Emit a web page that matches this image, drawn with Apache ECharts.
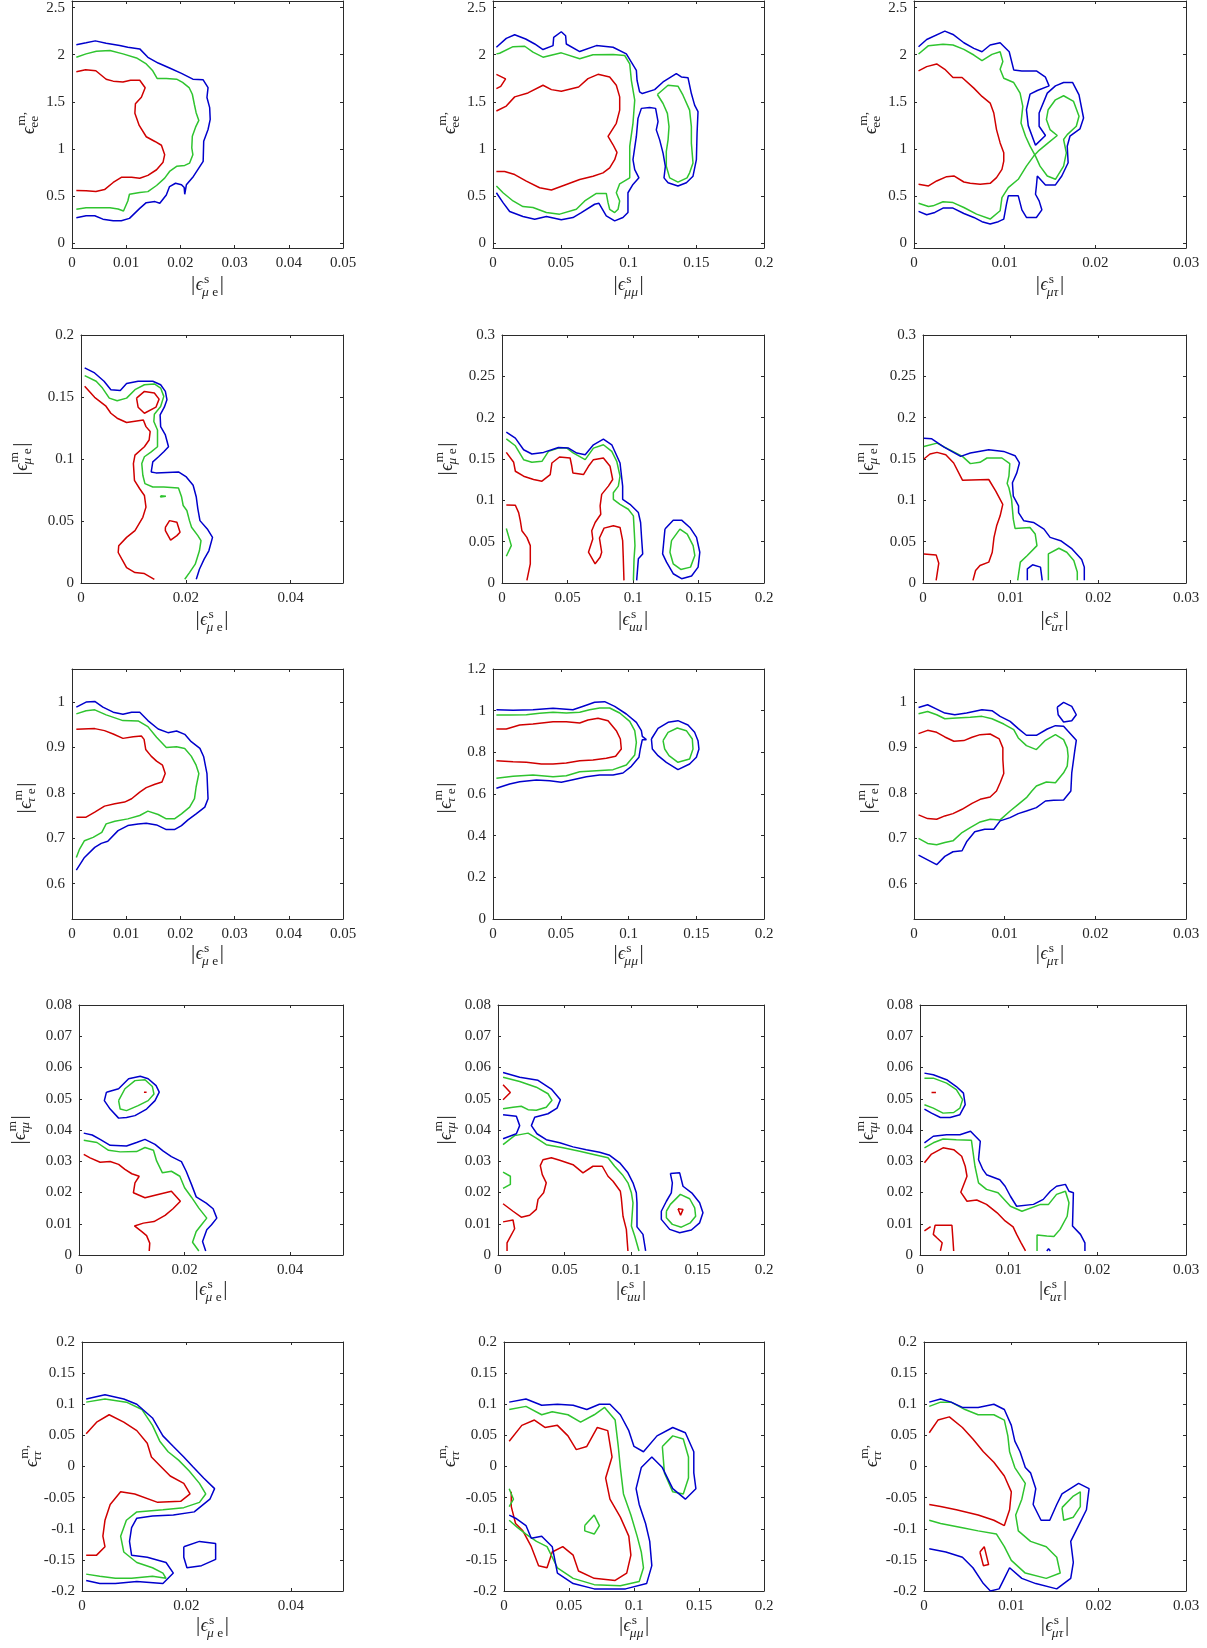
<!DOCTYPE html>
<html><head><meta charset="utf-8">
<script src="https://cdn.jsdelivr.net/npm/echarts@6/dist/echarts.min.js"></script>
<style>html,body{margin:0;padding:0;background:#fff}#c{width:1207px;height:1648px}</style>
</head><body><div id="c"></div>
<script>
// ---------------- tick values ----------------
const xTicks1 = [0,0.01,0.02,0.03,0.04,0.05];
const xTicks1b = [0,0.02,0.04];
const xTicks2 = [0,0.05,0.1,0.15,0.2];
const xTicks3 = [0,0.01,0.02,0.03];
const yTicksR1 = [0,0.5,1,1.5,2,2.5];
const yTicksR2a = [0,0.05,0.1,0.15,0.2];
const yTicksR2b = [0,0.05,0.1,0.15,0.2,0.25,0.3];
const yTicksR3a = [0.6,0.7,0.8,0.9,1];
const yTicksR3b = [0,0.2,0.4,0.6,0.8,1,1.2];
const yTicksR4 = [0,0.01,0.02,0.03,0.04,0.05,0.06,0.07,0.08];
const yTicksR5 = [-0.2,-0.15,-0.1,-0.05,0,0.05,0.1,0.15,0.2];
const xRanges = [[0,0.05],[0,0.2],[0,0.03]];
const yRangesRow = [[-0.05,2.57],[0,0.3],[0.522,1.073],[0,0.08],[-0.2,0.2]];

// ---------------- contour data (x, y) ----------------
// Panel 1
const p1_red = [[0.0008,1.82],[0.0025,1.84],[0.0044,1.83],[0.0063,1.74],[0.0076,1.72],[0.0094,1.71],[0.0108,1.73],[0.0125,1.73],[0.0135,1.65],[0.0128,1.55],[0.0117,1.48],[0.0116,1.38],[0.0124,1.25],[0.0137,1.13],[0.0153,1.08],[0.0165,1.04],[0.0171,0.94],[0.0168,0.86],[0.0156,0.78],[0.014,0.72],[0.0125,0.69],[0.011,0.70],[0.0091,0.70],[0.0076,0.645],[0.006,0.57],[0.0044,0.55],[0.0026,0.556],[0.0008,0.56]];
const p1_green = [[0.0008,1.973],[0.0026,2.009],[0.0045,2.037],[0.007,2.044],[0.0094,2.009],[0.0119,1.966],[0.0137,1.902],[0.0149,1.83],[0.0157,1.749],[0.0174,1.749],[0.0193,1.741],[0.0204,1.706],[0.0216,1.652],[0.0222,1.581],[0.0226,1.467],[0.0229,1.385],[0.0234,1.303],[0.0228,1.232],[0.0222,1.136],[0.0221,1.011],[0.0223,0.94],[0.0217,0.851],[0.0208,0.826],[0.0193,0.816],[0.018,0.762],[0.0171,0.691],[0.0156,0.613],[0.014,0.548],[0.0125,0.538],[0.0106,0.52],[0.0103,0.449],[0.0095,0.342],[0.0085,0.363],[0.007,0.377],[0.0048,0.377],[0.0026,0.377],[0.0008,0.36]];
const p1_blue = [[0.0008,2.105],[0.0026,2.126],[0.0043,2.147],[0.0063,2.123],[0.0088,2.098],[0.0103,2.08],[0.0125,2.062],[0.014,1.973],[0.0159,1.912],[0.018,1.859],[0.0202,1.802],[0.0223,1.741],[0.0242,1.734],[0.0251,1.652],[0.0249,1.546],[0.0254,1.439],[0.0255,1.314],[0.0251,1.207],[0.0243,1.083],[0.0242,0.869],[0.0236,0.816],[0.0224,0.709],[0.0211,0.62],[0.0208,0.52],[0.0207,0.591],[0.0202,0.62],[0.0191,0.637],[0.018,0.602],[0.0174,0.513],[0.0162,0.424],[0.0153,0.442],[0.0137,0.431],[0.0125,0.37],[0.0106,0.264],[0.0091,0.239],[0.0076,0.239],[0.0057,0.256],[0.0042,0.292],[0.0026,0.292],[0.0008,0.271]];
// Panel 2
const p2_red_a = [[0.0025,1.792],[0.0093,1.744],[0.0057,1.664],[0.0025,1.64]];
const p2_red_b = [[0.0025,1.403],[0.0098,1.455],[0.016,1.553],[0.0258,1.595],[0.0369,1.676],[0.0431,1.63],[0.0504,1.613],[0.0632,1.658],[0.0701,1.746],[0.0775,1.792],[0.0861,1.764],[0.091,1.676],[0.0935,1.553],[0.0935,1.413],[0.091,1.273],[0.0849,1.133],[0.0886,1.045],[0.0915,0.964],[0.0898,0.887],[0.0861,0.799],[0.0812,0.747],[0.0738,0.712],[0.064,0.677],[0.0541,0.624],[0.0431,0.565],[0.0344,0.589],[0.0246,0.659],[0.016,0.729],[0.0086,0.761],[0.0025,0.761]];
const p2_green_a = [[0.0025,2.009],[0.0049,2.016],[0.0148,2.086],[0.0234,2.09],[0.0295,2.027],[0.0369,1.974],[0.0504,2.02],[0.064,1.957],[0.0738,1.999],[0.0886,2.002],[0.0972,1.992],[0.1009,1.904],[0.1021,1.729],[0.1046,1.518],[0.1033,1.273],[0.1009,1.027],[0.1009,0.694],[0.0935,0.631],[0.091,0.536],[0.0935,0.449],[0.0923,0.361],[0.0898,0.326],[0.0861,0.361],[0.0849,0.431],[0.0836,0.529],[0.0763,0.529],[0.0677,0.449],[0.0615,0.361],[0.0492,0.309],[0.0394,0.326],[0.0295,0.379],[0.0221,0.389],[0.0148,0.449],[0.0074,0.536],[0.0025,0.607]];
const p2_green_b = [[0.1213,1.578],[0.1292,1.676],[0.1365,1.666],[0.1402,1.571],[0.1451,1.413],[0.1464,1.238],[0.1464,1.062],[0.1476,0.852],[0.1451,0.747],[0.1432,0.694],[0.1365,0.649],[0.1304,0.694],[0.1279,0.817],[0.1279,0.975],[0.1292,1.097],[0.1299,1.238],[0.1287,1.378],[0.1255,1.483],[0.1213,1.578]];
const p2_blue = [[0.0025,2.079],[0.0098,2.174],[0.016,2.212],[0.0241,2.167],[0.0308,2.114],[0.0369,2.055],[0.0443,2.097],[0.0448,2.184],[0.0504,2.244],[0.0536,2.202],[0.0541,2.114],[0.064,2.034],[0.0763,2.097],[0.0886,2.079],[0.0984,2.009],[0.1021,1.921],[0.1058,1.834],[0.1063,1.729],[0.1082,1.606],[0.1102,1.588],[0.1193,1.63],[0.1255,1.711],[0.1353,1.799],[0.139,1.764],[0.1439,1.757],[0.1464,1.588],[0.1488,1.466],[0.1513,1.396],[0.1506,1.168],[0.1501,0.887],[0.1476,0.712],[0.1427,0.642],[0.1365,0.607],[0.1292,0.642],[0.1262,0.694],[0.1272,0.817],[0.1255,0.957],[0.123,1.097],[0.1205,1.203],[0.1218,1.29],[0.12,1.431],[0.1156,1.441],[0.1095,1.431],[0.107,1.325],[0.1058,1.133],[0.1033,0.887],[0.1046,0.782],[0.1077,0.694],[0.1033,0.624],[0.0996,0.536],[0.0996,0.326],[0.0959,0.273],[0.0898,0.238],[0.0836,0.291],[0.0782,0.424],[0.075,0.414],[0.0652,0.326],[0.059,0.273],[0.0504,0.249],[0.0394,0.284],[0.0308,0.256],[0.0221,0.284],[0.0123,0.337],[0.0074,0.431],[0.0025,0.536]];
// Panel 3
const p3_red = [[0.0005,1.828],[0.0014,1.874],[0.0025,1.902],[0.0034,1.846],[0.0043,1.758],[0.0053,1.758],[0.0066,1.646],[0.0075,1.558],[0.0084,1.487],[0.0088,1.382],[0.0091,1.206],[0.0095,1.065],[0.0099,0.96],[0.0099,0.872],[0.0097,0.784],[0.0091,0.696],[0.0084,0.636],[0.0073,0.626],[0.0062,0.636],[0.0055,0.65],[0.0044,0.714],[0.0036,0.707],[0.0025,0.661],[0.0016,0.608],[0.0005,0.626]];
const p3_green = [[0.0005,2.008],[0.0016,2.096],[0.0032,2.11],[0.0043,2.103],[0.0055,2.057],[0.0066,1.997],[0.0075,1.937],[0.0086,2.004],[0.0095,2.032],[0.0098,1.927],[0.0095,1.846],[0.0099,1.751],[0.011,1.705],[0.0117,1.593],[0.012,1.452],[0.0118,1.276],[0.0123,1.136],[0.0128,1.03],[0.0134,0.925],[0.0139,0.819],[0.0147,0.714],[0.0156,0.679],[0.0165,0.819],[0.0168,0.96],[0.0165,1.101],[0.0169,1.153],[0.0179,1.241],[0.0182,1.347],[0.0176,1.505],[0.0165,1.565],[0.0156,1.522],[0.0148,1.417],[0.0146,1.312],[0.015,1.206],[0.0158,1.143],[0.0148,1.065],[0.0137,0.977],[0.0132,0.925],[0.0124,0.819],[0.0115,0.679],[0.0104,0.591],[0.0097,0.485],[0.0095,0.345],[0.0084,0.257],[0.0069,0.309],[0.0055,0.38],[0.0043,0.432],[0.0032,0.44],[0.0021,0.397],[0.0016,0.39],[0.0005,0.425]];
const p3_blue = [[0.0005,2.085],[0.0014,2.162],[0.0034,2.25],[0.0043,2.215],[0.0055,2.127],[0.0066,2.068],[0.0075,2.032],[0.0084,2.103],[0.0095,2.127],[0.0105,2.032],[0.011,1.839],[0.0119,1.828],[0.0135,1.828],[0.0145,1.762],[0.0149,1.67],[0.0136,1.621],[0.0128,1.582],[0.0124,1.417],[0.0126,1.248],[0.0134,1.041],[0.0145,1.143],[0.0138,1.241],[0.0138,1.382],[0.0147,1.593],[0.0156,1.67],[0.0165,1.705],[0.0175,1.705],[0.0182,1.575],[0.0187,1.329],[0.0183,1.213],[0.0172,1.136],[0.0169,1.03],[0.017,0.854],[0.0163,0.714],[0.0156,0.619],[0.0145,0.619],[0.0136,0.714],[0.0135,0.608],[0.0134,0.52],[0.0138,0.45],[0.0141,0.355],[0.0135,0.274],[0.0124,0.274],[0.0119,0.355],[0.0115,0.503],[0.0104,0.503],[0.0102,0.415],[0.0099,0.257],[0.0093,0.229],[0.0084,0.204],[0.0075,0.229],[0.0066,0.274],[0.0055,0.316],[0.0043,0.373],[0.0032,0.373],[0.0023,0.327],[0.0014,0.302],[0.0005,0.338]];
// Panel 4
const p4_red_a = [[0.0007,0.1586],[0.0026,0.1497],[0.0047,0.1429],[0.0057,0.1369],[0.0069,0.1329],[0.0087,0.1294],[0.0119,0.1315],[0.0124,0.1261],[0.0132,0.1221],[0.013,0.1153],[0.0121,0.1099],[0.0103,0.1031],[0.01,0.0963],[0.0102,0.0828],[0.0112,0.076],[0.0121,0.0706],[0.0124,0.0612],[0.0118,0.053],[0.0103,0.0422],[0.0087,0.0368],[0.0072,0.03],[0.0071,0.0246],[0.0078,0.0192],[0.0087,0.0124],[0.0103,0.0084],[0.0121,0.0076],[0.014,0.003]];
const p4_red_b = [[0.0106,0.1491],[0.0121,0.1545],[0.014,0.1532],[0.0149,0.1483],[0.0143,0.1418],[0.0121,0.1369],[0.0109,0.1418],[0.0106,0.1491]];
const p4_red_c = [[0.0161,0.0449],[0.0169,0.0503],[0.0183,0.049],[0.0189,0.0409],[0.0183,0.0382],[0.0171,0.0346],[0.0161,0.0422],[0.0161,0.0449]];
const p4_green_a = [[0.0007,0.1673],[0.0029,0.1627],[0.0041,0.1572],[0.0054,0.1491],[0.0069,0.147],[0.0087,0.1491],[0.0103,0.1559],[0.0121,0.1599],[0.014,0.1605],[0.0152,0.1572],[0.0158,0.1505],[0.0152,0.1424],[0.014,0.1361],[0.0139,0.1302],[0.0146,0.1234],[0.0146,0.1099],[0.0134,0.1058],[0.0121,0.1018],[0.0116,0.0963],[0.0118,0.0869],[0.0122,0.0801],[0.0137,0.0774],[0.0158,0.0774],[0.0186,0.0766],[0.0192,0.0693],[0.0195,0.0625],[0.0202,0.0585],[0.0207,0.0503],[0.0211,0.0449],[0.0223,0.0382],[0.0229,0.0341],[0.0226,0.026],[0.0218,0.0152],[0.0207,0.0084],[0.0198,0.003]];
const p4_green_b = [[0.0152,0.0703],[0.0162,0.0699],[0.0152,0.0694],[0.0152,0.0703]];
const p4_blue = [[0.0007,0.1735],[0.0026,0.1694],[0.0044,0.1627],[0.0057,0.1559],[0.0075,0.1553],[0.0087,0.1608],[0.0109,0.1627],[0.0137,0.1627],[0.0152,0.1599],[0.0161,0.1545],[0.0164,0.1478],[0.0159,0.1418],[0.0151,0.1356],[0.0152,0.1261],[0.0161,0.1194],[0.0167,0.1099],[0.0158,0.1058],[0.0148,0.1018],[0.0137,0.0977],[0.0134,0.0896],[0.0143,0.0888],[0.0186,0.0896],[0.0201,0.0855],[0.0214,0.0788],[0.022,0.0693],[0.0223,0.0598],[0.0227,0.0503],[0.0241,0.0436],[0.0251,0.0368],[0.0244,0.026],[0.0235,0.0192],[0.0226,0.0111],[0.022,0.003]];
// Panel 5
const p5_red_a = [[0.0033,0.158],[0.0089,0.146],[0.0102,0.1352],[0.0165,0.1292],[0.0241,0.1252],[0.0305,0.1232],[0.0368,0.1312],[0.0381,0.1452],[0.0439,0.1524],[0.052,0.1512],[0.0533,0.1412],[0.0541,0.1332],[0.0622,0.1312],[0.066,0.1412],[0.0698,0.1492],[0.0774,0.1512],[0.0825,0.1412],[0.0845,0.1252],[0.0812,0.1172],[0.0761,0.1072],[0.0749,0.0932],[0.0754,0.0832],[0.0711,0.0732],[0.0685,0.0632],[0.0693,0.0532],[0.066,0.0372],[0.0711,0.0232],[0.0749,0.0312],[0.0761,0.0372],[0.0744,0.0544],[0.0779,0.0664],[0.085,0.0692],[0.0901,0.0672],[0.0921,0.0512],[0.0926,0.0292],[0.0931,0.0032]];
const p5_red_b = [[0.0033,0.0944],[0.0102,0.094],[0.0127,0.0852],[0.014,0.0752],[0.0152,0.0632],[0.019,0.0552],[0.0216,0.0452],[0.0216,0.0232],[0.019,0.0032]];
const p5_green_a = [[0.0033,0.1744],[0.0102,0.166],[0.0165,0.1492],[0.0228,0.146],[0.0305,0.1472],[0.0355,0.1592],[0.0431,0.1632],[0.0495,0.1632],[0.0546,0.1572],[0.0635,0.1492],[0.0698,0.1632],[0.0774,0.1672],[0.0838,0.1592],[0.0876,0.1472],[0.0901,0.1292],[0.0888,0.1172],[0.085,0.1092],[0.085,0.1012],[0.0901,0.0952],[0.0964,0.0892],[0.1003,0.0812],[0.101,0.0612],[0.1015,0.0452],[0.1008,0.0292],[0.1003,0.0032]];
const p5_green_b = [[0.0033,0.066],[0.0071,0.0452],[0.0033,0.0324]];
const p5_green_c = [[0.1294,0.0512],[0.1358,0.0652],[0.1414,0.0592],[0.1459,0.0452],[0.1472,0.0332],[0.1439,0.0192],[0.1365,0.0164],[0.1307,0.0232],[0.1282,0.0372],[0.1294,0.0512]];
const p5_blue_a = [[0.0033,0.1824],[0.0102,0.1752],[0.0165,0.1612],[0.0228,0.156],[0.0317,0.158],[0.0431,0.164],[0.0508,0.1632],[0.0571,0.1572],[0.0635,0.1552],[0.0698,0.1672],[0.0774,0.174],[0.0838,0.1672],[0.0901,0.1452],[0.0921,0.1172],[0.0921,0.1012],[0.0977,0.0952],[0.1041,0.0852],[0.1058,0.0732],[0.1066,0.0532],[0.1074,0.0352],[0.1041,0.0292],[0.1028,0.0032]];
const p5_blue_b = [[0.1244,0.0652],[0.1307,0.076],[0.1371,0.076],[0.1434,0.0672],[0.1485,0.0552],[0.151,0.0372],[0.1497,0.0192],[0.1447,0.0084],[0.1371,0.0052],[0.1307,0.0112],[0.1256,0.0252],[0.1226,0.0352],[0.1244,0.0652]];
// Panel 6
const p6_red_a = [[0.0001,0.15],[0.0008,0.156],[0.0016,0.158],[0.0026,0.1552],[0.0035,0.1452],[0.0045,0.1244],[0.0075,0.1252],[0.0083,0.1112],[0.0091,0.0952],[0.0088,0.0812],[0.0084,0.0692],[0.0081,0.0552],[0.0079,0.0372],[0.0075,0.0252],[0.0065,0.0212],[0.006,0.0152],[0.0057,0.0032]];
const p6_red_b = [[0.0001,0.0352],[0.0015,0.034],[0.0018,0.024],[0.0015,0.0032]];
const p6_green_a = [[0.0001,0.1652],[0.0016,0.1692],[0.0029,0.162],[0.0045,0.1532],[0.0054,0.1444],[0.0065,0.146],[0.0073,0.1512],[0.009,0.1512],[0.0099,0.1444],[0.0098,0.1292],[0.0096,0.1204],[0.0098,0.1152],[0.0101,0.1012],[0.0103,0.0772],[0.0105,0.066],[0.0122,0.0672],[0.0128,0.0592],[0.013,0.0452],[0.0119,0.0332],[0.0111,0.0252],[0.0108,0.0032]];
const p6_green_b = [[0.0143,0.0032],[0.0143,0.0352],[0.0155,0.042],[0.0164,0.0372],[0.0172,0.0272],[0.0176,0.0132],[0.0176,0.0032]];
const p6_blue_a = [[0.0001,0.1752],[0.001,0.1744],[0.0024,0.1644],[0.0043,0.1532],[0.0054,0.1572],[0.0075,0.1612],[0.0092,0.1592],[0.0105,0.154],[0.011,0.1452],[0.0107,0.1332],[0.0102,0.1212],[0.0103,0.1052],[0.0109,0.0932],[0.0109,0.0852],[0.0115,0.0752],[0.0126,0.0732],[0.0138,0.0652],[0.0145,0.0552],[0.0157,0.0512],[0.017,0.0412],[0.0181,0.0284],[0.0184,0.0192],[0.0184,0.0032]];
const p6_blue_b = [[0.0119,0.0032],[0.0119,0.0172],[0.0125,0.022],[0.0134,0.0192],[0.0136,0.0032]];
// Panel 7
const p7_red = [[0.0008,0.94],[0.0042,0.9416],[0.006,0.9372],[0.0076,0.9298],[0.0094,0.9201],[0.0113,0.9238],[0.0128,0.9253],[0.0133,0.9179],[0.0136,0.8957],[0.0146,0.881],[0.0156,0.8699],[0.0167,0.861],[0.0172,0.8425],[0.0166,0.824],[0.0153,0.8189],[0.0137,0.8115],[0.0125,0.8018],[0.011,0.7871],[0.0097,0.7797],[0.0079,0.776],[0.006,0.7708],[0.0042,0.7575],[0.0026,0.7464],[0.0008,0.7464]];
const p7_green = [[0.0008,0.9741],[0.0026,0.9808],[0.0042,0.983],[0.0063,0.9719],[0.0094,0.9593],[0.0122,0.9586],[0.014,0.946],[0.0156,0.9224],[0.0174,0.9002],[0.0193,0.9017],[0.0208,0.898],[0.022,0.881],[0.0229,0.861],[0.0234,0.8425],[0.0229,0.8129],[0.0226,0.7871],[0.0217,0.7686],[0.0202,0.7538],[0.0189,0.7427],[0.0174,0.7427],[0.0159,0.7523],[0.014,0.7597],[0.0125,0.7501],[0.0103,0.7427],[0.0079,0.7375],[0.0063,0.7316],[0.0055,0.7131],[0.0039,0.702],[0.0023,0.6946],[0.0014,0.6762],[0.0008,0.6577]];
const p7_blue = [[0.0008,0.9889],[0.0026,1.0],[0.0042,1.0015],[0.0057,0.9889],[0.0076,0.9778],[0.0094,0.9734],[0.011,0.9778],[0.0125,0.9778],[0.014,0.9593],[0.0159,0.9408],[0.0177,0.9327],[0.0193,0.9364],[0.0208,0.929],[0.022,0.9128],[0.0236,0.898],[0.0243,0.8795],[0.0249,0.8425],[0.0251,0.7871],[0.0245,0.7686],[0.0229,0.7538],[0.0214,0.7405],[0.0202,0.7279],[0.0189,0.719],[0.0174,0.719],[0.0156,0.7294],[0.0137,0.7331],[0.0122,0.7316],[0.0103,0.7279],[0.0085,0.7168],[0.0066,0.6932],[0.0054,0.6887],[0.0042,0.6798],[0.0023,0.6577],[0.0008,0.6296]];
// Panel 8
const p8_red = [[0.0025,0.912],[0.0098,0.912],[0.0197,0.9312],[0.0295,0.936],[0.0443,0.9472],[0.0541,0.9472],[0.064,0.9408],[0.0701,0.9552],[0.0775,0.9632],[0.0849,0.952],[0.091,0.904],[0.094,0.864],[0.0947,0.816],[0.0905,0.7808],[0.0836,0.7712],[0.0738,0.7632],[0.064,0.76],[0.0541,0.7488],[0.0443,0.744],[0.0357,0.744],[0.0246,0.752],[0.0148,0.7552],[0.0025,0.76]];
const p8_green_a = [[0.0025,0.9792],[0.0123,0.9792],[0.0246,0.9808],[0.0344,0.9872],[0.0443,0.992],[0.0541,0.9888],[0.064,0.992],[0.0713,1.0048],[0.0787,1.0128],[0.0861,1.0128],[0.0935,0.9888],[0.1009,0.9488],[0.1046,0.904],[0.1058,0.848],[0.1046,0.7872],[0.0984,0.7392],[0.0886,0.7168],[0.0763,0.712],[0.064,0.7072],[0.0541,0.688],[0.0443,0.6832],[0.0295,0.6912],[0.0148,0.6848],[0.0025,0.6752]];
const p8_green_b = [[0.1255,0.856],[0.1292,0.896],[0.136,0.9168],[0.1427,0.904],[0.1471,0.864],[0.1476,0.816],[0.1451,0.768],[0.1365,0.752],[0.1299,0.784],[0.1267,0.816],[0.1255,0.856]];
const p8_blue_a = [[0.0025,1.0048],[0.0148,1.0016],[0.0295,1.0048],[0.0443,1.0112],[0.059,1.0048],[0.0677,1.024],[0.075,1.04],[0.0824,1.0432],[0.0898,1.0208],[0.0984,0.984],[0.1058,0.944],[0.1095,0.904],[0.1102,0.8768],[0.1132,0.8608],[0.1102,0.8608],[0.1087,0.816],[0.1077,0.776],[0.1021,0.7328],[0.0959,0.7008],[0.0886,0.6912],[0.0787,0.6912],[0.0689,0.6832],[0.059,0.6688],[0.0504,0.656],[0.0418,0.664],[0.032,0.6672],[0.0197,0.6592],[0.0123,0.648],[0.0025,0.6272]];
const p8_blue_b = [[0.1169,0.864],[0.1218,0.9152],[0.1292,0.944],[0.1365,0.952],[0.1439,0.9312],[0.1488,0.896],[0.1513,0.856],[0.152,0.816],[0.1501,0.776],[0.1451,0.744],[0.1365,0.7168],[0.1279,0.752],[0.1218,0.784],[0.1176,0.816],[0.1169,0.864]];
// Panel 9
const p9_red = [[0.0005,0.9305],[0.0015,0.9378],[0.0025,0.9335],[0.0034,0.9232],[0.0044,0.9137],[0.0055,0.9152],[0.0064,0.9225],[0.0073,0.9283],[0.0084,0.9298],[0.0094,0.9188],[0.0098,0.8991],[0.0098,0.8735],[0.0099,0.8428],[0.0095,0.8223],[0.0091,0.8041],[0.0084,0.7909],[0.0073,0.7857],[0.0064,0.777],[0.0053,0.7638],[0.0043,0.7543],[0.0034,0.7492],[0.0025,0.7419],[0.0015,0.7433],[0.0005,0.7514]];
const p9_green = [[0.0005,0.9744],[0.0015,0.9795],[0.0025,0.9722],[0.0034,0.9634],[0.0047,0.9649],[0.0062,0.9664],[0.0075,0.9686],[0.0086,0.9634],[0.0099,0.9517],[0.011,0.9393],[0.0115,0.921],[0.0124,0.9042],[0.0135,0.8954],[0.0145,0.9159],[0.0156,0.9283],[0.0165,0.9174],[0.0169,0.8991],[0.017,0.8808],[0.0169,0.8589],[0.0165,0.8442],[0.0156,0.8223],[0.0146,0.8238],[0.0135,0.815],[0.013,0.804],[0.0124,0.7894],[0.0115,0.7748],[0.0106,0.7601],[0.0095,0.7404],[0.0084,0.7419],[0.0073,0.736],[0.0062,0.7236],[0.0053,0.7126],[0.0043,0.6943],[0.0034,0.6907],[0.0025,0.6856],[0.0015,0.6885],[0.0005,0.6995]];
const p9_blue_a = [[0.0005,0.9883],[0.0015,0.9942],[0.0025,0.9846],[0.0034,0.9759],[0.0045,0.9722],[0.0058,0.9759],[0.0075,0.9832],[0.0086,0.981],[0.0095,0.9686],[0.0106,0.9576],[0.0115,0.9415],[0.0124,0.9269],[0.0135,0.9269],[0.0147,0.9408],[0.0156,0.9481],[0.0165,0.9466],[0.017,0.9356],[0.0179,0.9159],[0.0177,0.8881],[0.0174,0.8442],[0.0173,0.804],[0.0165,0.7843],[0.0154,0.7835],[0.0145,0.7821],[0.0135,0.7675],[0.0124,0.7601],[0.0115,0.7543],[0.0106,0.7455],[0.0095,0.7382],[0.0088,0.7199],[0.0078,0.7199],[0.0067,0.7141],[0.0058,0.6921],[0.0053,0.6724],[0.0043,0.6702],[0.0034,0.66],[0.0025,0.6417],[0.0005,0.6629]];
const p9_blue_b = [[0.0158,0.989],[0.0165,0.9993],[0.0174,0.9905],[0.0179,0.9722],[0.0174,0.959],[0.0165,0.9561],[0.0159,0.9722],[0.0158,0.989]];
// Panel 10
const p10_red_a = [[0.0009,0.0322],[0.0021,0.0311],[0.004,0.0297],[0.0059,0.0299],[0.0075,0.029],[0.0087,0.0274],[0.01,0.026],[0.0114,0.0252],[0.0106,0.0231],[0.0103,0.0199],[0.0125,0.0183],[0.0144,0.0191],[0.0175,0.0204],[0.0192,0.0172],[0.0178,0.0148],[0.0163,0.0127],[0.0142,0.0107],[0.0122,0.0102],[0.0105,0.0093],[0.0119,0.0075],[0.0128,0.0062],[0.0134,0.0038],[0.0133,0.0013]];
const p10_red_b = [[0.0123,0.0521],[0.0128,0.0521]];
const p10_green_a = [[0.0009,0.0367],[0.0034,0.036],[0.0056,0.0335],[0.0078,0.033],[0.0109,0.0331],[0.0125,0.0344],[0.0141,0.0335],[0.0147,0.0301],[0.0158,0.0263],[0.0175,0.0268],[0.0191,0.0252],[0.02,0.0215],[0.0213,0.0185],[0.0227,0.015],[0.0242,0.0118],[0.0232,0.0097],[0.0222,0.0075],[0.0215,0.0041],[0.0227,0.0013]];
const p10_green_b = [[0.0075,0.0494],[0.0087,0.0532],[0.0106,0.0558],[0.0125,0.0561],[0.0139,0.0539],[0.0142,0.0515],[0.0131,0.0494],[0.0112,0.0478],[0.009,0.0462],[0.0078,0.0467],[0.0075,0.0494]];
const p10_blue_a = [[0.0009,0.039],[0.0025,0.0384],[0.004,0.037],[0.0059,0.0351],[0.009,0.0349],[0.0109,0.036],[0.0125,0.037],[0.0144,0.0354],[0.0159,0.0333],[0.0175,0.0315],[0.0194,0.0299],[0.0203,0.0268],[0.0213,0.0226],[0.0222,0.0186],[0.0241,0.0166],[0.0254,0.0148],[0.0261,0.0118],[0.0251,0.0097],[0.0242,0.0081],[0.0234,0.0043],[0.024,0.0013]];
const p10_blue_b = [[0.0052,0.0521],[0.0075,0.0532],[0.0094,0.0564],[0.0116,0.0572],[0.0131,0.0564],[0.0146,0.0542],[0.0152,0.0521],[0.0144,0.0494],[0.0128,0.0467],[0.0106,0.0446],[0.009,0.044],[0.0075,0.0438],[0.0059,0.0467],[0.0048,0.0494],[0.0052,0.0521]];
// Panel 11
const p11_red_a = [[0.0038,0.0545],[0.0093,0.052],[0.0038,0.0497]];
const p11_red_b = [[0.0038,0.0164],[0.0113,0.014],[0.0175,0.0121],[0.0238,0.0127],[0.0288,0.0146],[0.0301,0.0178],[0.0343,0.0199],[0.0363,0.0231],[0.0333,0.0257],[0.0318,0.0286],[0.0338,0.0305],[0.0401,0.0311],[0.0464,0.0303],[0.0564,0.0289],[0.0639,0.0263],[0.0714,0.0284],[0.0784,0.0284],[0.0827,0.0252],[0.0865,0.0236],[0.092,0.0204],[0.0927,0.0183],[0.094,0.0124],[0.0965,0.0082],[0.0977,0.0013]];
const p11_red_c = [[0.0038,0.0106],[0.0113,0.0112],[0.0125,0.0084],[0.0088,0.0055],[0.0068,0.0039],[0.0068,0.0013]];
const p11_red_d = [[0.1353,0.0148],[0.1391,0.0146],[0.1373,0.0127],[0.1353,0.0148]];
const p11_green_a = [[0.0038,0.0569],[0.0163,0.0555],[0.0288,0.0537],[0.0376,0.0516],[0.0406,0.0495],[0.0363,0.0473],[0.0288,0.0463],[0.0226,0.0465],[0.0175,0.0476],[0.0113,0.0473],[0.0038,0.0468]];
const p11_green_b = [[0.0038,0.0353],[0.0125,0.0382],[0.0226,0.039],[0.0288,0.0374],[0.0363,0.0353],[0.0489,0.0343],[0.0614,0.0332],[0.0727,0.0321],[0.0827,0.0311],[0.0877,0.0284],[0.0935,0.0257],[0.0977,0.0231],[0.1003,0.0199],[0.1015,0.0167],[0.1003,0.0093],[0.1028,0.0061],[0.106,0.0013]];
const p11_green_c = [[0.0038,0.0265],[0.0093,0.0252],[0.0093,0.0226],[0.0038,0.0213]];
const p11_green_d = [[0.1266,0.014],[0.1296,0.0162],[0.1371,0.0194],[0.1441,0.018],[0.1479,0.0151],[0.1486,0.0124],[0.1446,0.0103],[0.1378,0.0089],[0.1311,0.0098],[0.1266,0.0119],[0.1266,0.014]];
const p11_blue_a = [[0.0038,0.0584],[0.0163,0.0569],[0.0301,0.0559],[0.0401,0.0531],[0.0469,0.0497],[0.0444,0.047],[0.0376,0.0452],[0.0276,0.0441],[0.0251,0.0414],[0.0293,0.0388],[0.0363,0.0369],[0.0464,0.0359],[0.0564,0.0346],[0.0664,0.0337],[0.0764,0.0329],[0.084,0.0319],[0.0915,0.0295],[0.0977,0.0263],[0.1015,0.0231],[0.104,0.0199],[0.1045,0.0167],[0.1045,0.009],[0.109,0.0066],[0.111,0.0013]];
const p11_blue_b = [[0.0038,0.0449],[0.0138,0.0444],[0.0163,0.0414],[0.0138,0.0388],[0.0038,0.0372]];
const p11_blue_c = [[0.1296,0.0261],[0.1366,0.0263],[0.1391,0.022],[0.1461,0.0197],[0.1516,0.0167],[0.1541,0.0135],[0.1516,0.0103],[0.1454,0.008],[0.1366,0.0071],[0.1291,0.0082],[0.1228,0.0114],[0.1228,0.014],[0.1266,0.0172],[0.1303,0.0199],[0.1311,0.0231],[0.1296,0.0261]];
// Panel 12
const p12_red_a = [[0.0005,0.0295],[0.0013,0.0323],[0.0026,0.0343],[0.0038,0.0337],[0.0047,0.0316],[0.0051,0.0284],[0.0053,0.0252],[0.0046,0.0201],[0.0053,0.0172],[0.0064,0.0176],[0.0075,0.0162],[0.0087,0.0135],[0.0096,0.0109],[0.0105,0.009],[0.0109,0.0066],[0.0114,0.0039],[0.0119,0.0013]];
const p12_red_b = [[0.0005,0.0077],[0.0012,0.0091]];
const p12_red_c = [[0.0023,0.0013],[0.0025,0.0039],[0.0019,0.0055],[0.0015,0.0066],[0.0017,0.0095],[0.0036,0.0095],[0.0037,0.0055],[0.0038,0.0013]];
const p12_red_d = [[0.0013,0.052],[0.0018,0.052]];
const p12_green_a = [[0.0005,0.0566],[0.0015,0.0566],[0.003,0.055],[0.0041,0.0529],[0.0048,0.0497],[0.0045,0.047],[0.0038,0.0456],[0.0026,0.0454],[0.0015,0.047],[0.0005,0.0481]];
const p12_green_b = [[0.0005,0.0343],[0.0015,0.0359],[0.0026,0.0371],[0.0041,0.0369],[0.0058,0.0367],[0.0062,0.0284],[0.0066,0.0231],[0.0075,0.021],[0.0088,0.0199],[0.0102,0.0156],[0.0115,0.014],[0.0136,0.0162],[0.0145,0.0162],[0.0154,0.0194],[0.0164,0.0204],[0.0168,0.0167],[0.0166,0.0124],[0.0158,0.0082],[0.0151,0.0059],[0.0143,0.0061],[0.0132,0.0064],[0.0132,0.0013]];
const p12_blue_a = [[0.0005,0.0582],[0.0015,0.0577],[0.003,0.0561],[0.0041,0.0539],[0.0049,0.0518],[0.0051,0.0481],[0.0045,0.0449],[0.0034,0.044],[0.0023,0.044],[0.0013,0.0454],[0.0005,0.0467]];
const p12_blue_b = [[0.0005,0.0359],[0.0015,0.038],[0.003,0.0385],[0.0045,0.0385],[0.0057,0.0396],[0.0068,0.0364],[0.0066,0.0305],[0.0071,0.0273],[0.0075,0.0257],[0.009,0.0241],[0.0096,0.022],[0.0102,0.0188],[0.0109,0.0156],[0.0128,0.0162],[0.0139,0.0178],[0.0147,0.0204],[0.0154,0.022],[0.0164,0.0226],[0.0168,0.0204],[0.0173,0.0199],[0.0172,0.0093],[0.0181,0.0066],[0.0186,0.0039],[0.0186,0.0013]];
const p12_blue_c = [[0.0143,0.0013],[0.0145,0.002],[0.0147,0.0013]];
// Panel 13
const p13_red = [[0.0008,0.0525],[0.0028,0.0712],[0.0052,0.0831],[0.008,0.0712],[0.0105,0.0576],[0.0125,0.0373],[0.0133,0.0153],[0.0149,0.0017],[0.0169,-0.0153],[0.0195,-0.0271],[0.0207,-0.0441],[0.0189,-0.0559],[0.0145,-0.0576],[0.0101,-0.0441],[0.0074,-0.0407],[0.0054,-0.061],[0.0044,-0.0864],[0.004,-0.1119],[0.0044,-0.1288],[0.0028,-0.1424],[0.0008,-0.1424]];
const p13_green = [[0.0008,0.1034],[0.0044,0.1085],[0.0085,0.1034],[0.0115,0.0915],[0.0135,0.0661],[0.0149,0.0407],[0.0165,0.0237],[0.0185,0.0102],[0.0205,-0.0068],[0.0225,-0.0271],[0.0237,-0.0441],[0.0225,-0.0576],[0.0195,-0.0661],[0.0155,-0.0695],[0.0105,-0.0729],[0.0085,-0.0864],[0.0074,-0.1119],[0.008,-0.1373],[0.0105,-0.1542],[0.0135,-0.1627],[0.0155,-0.1712],[0.0161,-0.1797],[0.0135,-0.1763],[0.0095,-0.1797],[0.0064,-0.1797],[0.0034,-0.1763],[0.0008,-0.1729]];
const p13_blue_a = [[0.0008,0.1085],[0.0044,0.1153],[0.008,0.1085],[0.0105,0.1],[0.0135,0.078],[0.0155,0.0492],[0.0175,0.0322],[0.0195,0.0153],[0.0212,0.0],[0.0233,-0.0186],[0.0254,-0.0356],[0.0245,-0.0525],[0.0215,-0.0729],[0.0175,-0.078],[0.0135,-0.0797],[0.0105,-0.0831],[0.0095,-0.0983],[0.0091,-0.1203],[0.0095,-0.1424],[0.0125,-0.1458],[0.0161,-0.1542],[0.0175,-0.1712],[0.0155,-0.1881],[0.0105,-0.1847],[0.0064,-0.1881],[0.0034,-0.1881],[0.0008,-0.1831]];
const p13_blue_b = [[0.0195,-0.1288],[0.0225,-0.1203],[0.0256,-0.1237],[0.0256,-0.1492],[0.0229,-0.1593],[0.0201,-0.1627],[0.0195,-0.1458],[0.0195,-0.1288]];
// Panel 14
const p14_red = [[0.004,0.0407],[0.0137,0.0661],[0.0234,0.0746],[0.0315,0.0627],[0.0411,0.0661],[0.0492,0.0492],[0.0556,0.0271],[0.0637,0.0322],[0.0718,0.0627],[0.0798,0.0576],[0.0831,0.0153],[0.0782,-0.0186],[0.0815,-0.0525],[0.0895,-0.0814],[0.096,-0.1119],[0.0976,-0.1424],[0.0944,-0.1712],[0.0855,-0.1831],[0.0694,-0.1797],[0.0573,-0.1678],[0.0532,-0.1424],[0.0452,-0.1288],[0.0371,-0.1373],[0.0331,-0.1627],[0.0266,-0.1593],[0.021,-0.1288],[0.0145,-0.1034],[0.0089,-0.0915],[0.0056,-0.0644],[0.0056,-0.0407]];
const p14_green_a = [[0.004,0.0915],[0.0169,0.0966],[0.029,0.0831],[0.0371,0.0881],[0.0492,0.0831],[0.0589,0.0712],[0.0694,0.0831],[0.0774,0.0949],[0.0855,0.0746],[0.0879,0.0322],[0.0895,-0.0017],[0.0919,-0.0441],[0.0976,-0.078],[0.1024,-0.1119],[0.1056,-0.1373],[0.1073,-0.1627],[0.104,-0.1847],[0.0895,-0.1915],[0.0694,-0.1898],[0.0532,-0.1797],[0.0411,-0.1627],[0.0331,-0.1288],[0.025,-0.1203],[0.0169,-0.1085],[0.0105,-0.0983],[0.004,-0.0864]];
const p14_green_b = [[0.1218,0.0322],[0.1298,0.0492],[0.1379,0.0441],[0.1419,0.0153],[0.1419,-0.0186],[0.1379,-0.0441],[0.1298,-0.0407],[0.1234,-0.0102],[0.1218,0.0322]];
const p14_green_c = [[0.0621,-0.0949],[0.0694,-0.078],[0.0734,-0.0949],[0.0694,-0.1085],[0.0621,-0.1034],[0.0621,-0.0949]];
const p14_green_d = [[0.004,-0.0356],[0.0073,-0.0525],[0.004,-0.0644]];
const p14_blue = [[0.004,0.1034],[0.0169,0.1085],[0.029,0.0983],[0.0411,0.1],[0.0532,0.0983],[0.0637,0.0915],[0.0734,0.1],[0.0815,0.1],[0.0895,0.0831],[0.096,0.0576],[0.1,0.0322],[0.1073,0.0237],[0.1177,0.0492],[0.1298,0.0627],[0.1395,0.0542],[0.146,0.0237],[0.146,-0.0102],[0.1476,-0.0356],[0.1395,-0.0525],[0.1298,-0.0356],[0.1218,-0.0017],[0.1137,0.0153],[0.1056,-0.0017],[0.1016,-0.0356],[0.104,-0.061],[0.1089,-0.0915],[0.1121,-0.1203],[0.1137,-0.1593],[0.1097,-0.1881],[0.0935,-0.1966],[0.0694,-0.1966],[0.0532,-0.1881],[0.0411,-0.1712],[0.0371,-0.1288],[0.029,-0.1119],[0.021,-0.1153],[0.0169,-0.0949],[0.0089,-0.0831],[0.004,-0.078]];
// Panel 15
const p15_red_a = [[0.0006,0.0542],[0.0016,0.0746],[0.0029,0.0797],[0.0044,0.0627],[0.0056,0.0441],[0.0068,0.0237],[0.008,0.0068],[0.0092,-0.0153],[0.01,-0.0407],[0.0098,-0.0695],[0.0092,-0.0949],[0.008,-0.0864],[0.0062,-0.078],[0.0037,-0.0695],[0.0019,-0.0644],[0.0006,-0.061]];
const p15_red_b = [[0.0064,-0.1373],[0.0069,-0.1288],[0.0074,-0.1576],[0.0068,-0.1593],[0.0064,-0.1373]];
const p15_green_a = [[0.0006,0.0966],[0.0019,0.1034],[0.0031,0.1034],[0.0047,0.0915],[0.0062,0.0831],[0.008,0.0831],[0.0092,0.0746],[0.0096,0.0492],[0.0098,0.0237],[0.0104,-0.0017],[0.0116,-0.0271],[0.0112,-0.0525],[0.0105,-0.078],[0.0108,-0.1034],[0.0122,-0.1203],[0.014,-0.1288],[0.0152,-0.1458],[0.0156,-0.1712],[0.014,-0.1797],[0.0116,-0.1712],[0.01,-0.1508],[0.0092,-0.1288],[0.0083,-0.1085],[0.0062,-0.1034],[0.0044,-0.0983],[0.0019,-0.0915],[0.0006,-0.0864]];
const p15_green_b = [[0.0158,-0.0661],[0.0171,-0.0475],[0.0179,-0.0407],[0.0179,-0.0644],[0.0171,-0.0814],[0.016,-0.0864],[0.0158,-0.0661]];
const p15_blue = [[0.0006,0.1034],[0.0019,0.1085],[0.0031,0.1034],[0.0044,0.0949],[0.0062,0.0949],[0.008,0.1],[0.0092,0.0915],[0.01,0.0661],[0.0104,0.0407],[0.011,0.0237],[0.0116,-0.0017],[0.0122,-0.0102],[0.0128,-0.0356],[0.0125,-0.061],[0.0134,-0.0864],[0.0144,-0.0864],[0.0152,-0.061],[0.0158,-0.0441],[0.0177,-0.0271],[0.0189,-0.0356],[0.0186,-0.0695],[0.0177,-0.0949],[0.0168,-0.1203],[0.0171,-0.1542],[0.0168,-0.1797],[0.0152,-0.1966],[0.0128,-0.1881],[0.0112,-0.1797],[0.0098,-0.1627],[0.0092,-0.1797],[0.0086,-0.1966],[0.0076,-0.2],[0.0068,-0.1881],[0.0056,-0.1627],[0.0044,-0.1458],[0.0025,-0.1373],[0.0006,-0.1322]];

// which pieces belong to which panel
const panelPieces = [
  {red:[p1_red], green:[p1_green], blue:[p1_blue]},
  {red:[p2_red_a,p2_red_b], green:[p2_green_a,p2_green_b], blue:[p2_blue]},
  {red:[p3_red], green:[p3_green], blue:[p3_blue]},
  {red:[p4_red_a,p4_red_b,p4_red_c], green:[p4_green_a,p4_green_b], blue:[p4_blue]},
  {red:[p5_red_a,p5_red_b], green:[p5_green_a,p5_green_b,p5_green_c], blue:[p5_blue_a,p5_blue_b]},
  {red:[p6_red_a,p6_red_b], green:[p6_green_a,p6_green_b], blue:[p6_blue_a,p6_blue_b]},
  {red:[p7_red], green:[p7_green], blue:[p7_blue]},
  {red:[p8_red], green:[p8_green_a,p8_green_b], blue:[p8_blue_a,p8_blue_b]},
  {red:[p9_red], green:[p9_green], blue:[p9_blue_a,p9_blue_b]},
  {red:[p10_red_a,p10_red_b], green:[p10_green_a,p10_green_b], blue:[p10_blue_a,p10_blue_b]},
  {red:[p11_red_a,p11_red_b,p11_red_c,p11_red_d], green:[p11_green_a,p11_green_b,p11_green_c,p11_green_d], blue:[p11_blue_a,p11_blue_b,p11_blue_c]},
  {red:[p12_red_a,p12_red_b,p12_red_c,p12_red_d], green:[p12_green_a,p12_green_b], blue:[p12_blue_a,p12_blue_b,p12_blue_c]},
  {red:[p13_red], green:[p13_green], blue:[p13_blue_a,p13_blue_b]},
  {red:[p14_red], green:[p14_green_a,p14_green_b,p14_green_c,p14_green_d], blue:[p14_blue]},
  {red:[p15_red_a,p15_red_b], green:[p15_green_a,p15_green_b], blue:[p15_blue]}
];

// axis labels (text)
const xLabelSubs = [
  [[['μ',true],[' e',false]], [['μμ',true]], [['μτ',true]]],
  [[['μ',true],[' e',false]], [['uu',true]], [['uτ',true]]],
  [[['μ',true],[' e',false]], [['μμ',true]], [['μτ',true]]],
  [[['μ',true],[' e',false]], [['uu',true]], [['uτ',true]]],
  [[['μ',true],[' e',false]], [['μμ',true]], [['μτ',true]]]
];
const yLabelDefs = [
  {sup:'m,', sub:[['ee',false]], bars:false},
  {sup:'m', sub:[['μ',true],[' e',false]], bars:true},
  {sup:'m', sub:[['τ',true],[' e',false]], bars:true},
  {sup:'m', sub:[['τμ',true]], bars:true},
  {sup:'m,', sub:[['ττ',true]], bars:false}
];

// ---------------- layout ----------------
const gridLefts = [72,493,914, 81,502,923, 72,493,914, 79,498,920, 82,504,924];
const colRights = [343,764,1186];
const rowTops = [1,335,669,1005,1342];
const rowBottoms = [248,583,919,1255,1591];
const yLabelDx = [-43,-43,-43, -59,-55,-55, -46,-47,-45, -59,-52,-52, -50,-54,-52];
const yLabelCy = [123,459,798,1130,1456];
const xLabelCy = [285,620,954,1290,1626];

const AX = '#2b2b2b', TX = '#262626';
const FONT = '"Liberation Serif", "Times New Roman", serif';
const COLORS = {red:'#d00000', green:'#2fc42f', blue:'#0000cc'};
const fmt = v => String(parseFloat(Number(v).toFixed(4)));

function xTicksFor(r, c) {
  if (c === 0) return (r === 0 || r === 2) ? xTicks1 : xTicks1b;
  return c === 1 ? xTicks2 : xTicks3;
}
function yTicksFor(r, c) {
  if (r === 0) return yTicksR1;
  if (r === 1) return c === 0 ? yTicksR2a : yTicksR2b;
  if (r === 2) return c === 1 ? yTicksR3b : yTicksR3a;
  if (r === 3) return yTicksR4;
  return yTicksR5;
}
function yRangeFor(r, c) {
  if (r === 1 && c === 0) return [0, 0.2];
  if (r === 2 && c === 1) return [0, 1.2];
  return yRangesRow[r];
}

const cv = document.createElement('canvas').getContext('2d');
function tw(t, size, it) { cv.font = (it ? 'italic ' : '') + size + 'px ' + FONT; return cv.measureText(t).width; }

function mathLabel(cx, cy, rot, sup, sub, bars, supDy, subDy) {
  const main = 18, small = 13.5, bar = 21;
  const items = [];
  let u = 0;
  if (bars) { items.push(['|', u, -1, bar, false]); u += tw('|', bar, false) + 0.5; }
  items.push(['ϵ', u, 0, main, true]);
  const eW = tw('ϵ', main, true);
  const supX = u + eW + 1, subX = u + eW - 1;
  items.push([sup, supX, supDy, small, false]);
  let sx = subX;
  sub.forEach(([t, it]) => { items.push([t, sx, subDy, small, it]); sx += tw(t, small, it); });
  let end = Math.max(sx, supX + tw(sup, small, false));
  if (bars) { items.push(['|', end + 1.5, -1, bar, false]); end += 1.5 + tw('|', bar, false); }
  const T = end;
  return {
    type: 'group', x: cx, y: cy, rotation: rot, silent: true,
    children: items.map(([t, x, y, s, it]) => ({
      type: 'text', x: x - T / 2, y: y,
      style: {text: t, fontSize: s, fontFamily: FONT, fontStyle: it ? 'italic' : 'normal', fill: TX, align: 'left', verticalAlign: 'middle'}
    }))
  };
}

const grids = [], xAxes = [], yAxes = [], series = [], graphics = [];
for (let g = 0; g < 15; g++) {
  const r = Math.floor(g / 3), c = g % 3;
  const left = gridLefts[g], right = colRights[c], top = rowTops[r], bottom = rowBottoms[r];
  grids.push({left: left, top: top, width: right - left, height: bottom - top, containLabel: false, outerBoundsMode: 'none'});
  const xr = xRanges[c], yr = yRangeFor(r, c), xt = xTicksFor(r, c), yt = yTicksFor(r, c);
  const line = {show: true, onZero: false, lineStyle: {color: AX, width: 1}};
  const lab = {show: true, formatter: fmt, fontSize: 15, fontFamily: FONT, color: TX};
  xAxes.push({gridIndex: g, type: 'value', min: xr[0], max: xr[1], position: 'bottom', axisLine: line,
    axisTick: {show: true, inside: true, length: 3, customValues: xt, lineStyle: {color: AX}},
    axisLabel: Object.assign({}, lab, {customValues: xt, margin: 8}), splitLine: {show: false}});
  xAxes.push({gridIndex: g, type: 'value', min: xr[0], max: xr[1], position: 'top', axisLine: line,
    axisTick: {show: true, inside: true, length: 3, customValues: xt, lineStyle: {color: AX}},
    axisLabel: {show: false}, splitLine: {show: false}});
  yAxes.push({gridIndex: g, type: 'value', min: yr[0], max: yr[1], position: 'left', axisLine: line,
    axisTick: {show: true, inside: true, length: 3, customValues: yt, lineStyle: {color: AX}},
    axisLabel: Object.assign({}, lab, {customValues: yt, margin: 7}), splitLine: {show: false}});
  yAxes.push({gridIndex: g, type: 'value', min: yr[0], max: yr[1], position: 'right', axisLine: line,
    axisTick: {show: true, inside: true, length: 3, customValues: yt, lineStyle: {color: AX}},
    axisLabel: {show: false}, splitLine: {show: false}});
  ['red', 'green', 'blue'].forEach(col => {
    panelPieces[g][col].forEach(piece => {
      series.push({type: 'line', xAxisIndex: 2 * g, yAxisIndex: 2 * g, data: piece,
        showSymbol: false, symbol: 'none', silent: true, animation: false,
        lineStyle: {color: COLORS[col], width: 1.5}});
    });
  });
  const xl = xLabelSubs[r][c];
  graphics.push(mathLabel((left + right) / 2, xLabelCy[r], 0, 's', xl, true, -5.5, 7));
  const yd = yLabelDefs[r];
  graphics.push(mathLabel(left + yLabelDx[g], yLabelCy[r], Math.PI / 2, yd.sup, yd.sub, yd.bars, -7.5, 5));
}

const chart = echarts.init(document.getElementById('c'), null, {renderer: 'canvas'});
chart.setOption({
  backgroundColor: '#ffffff',
  animation: false,
  grid: grids, xAxis: xAxes, yAxis: yAxes, series: series,
  graphic: graphics
});
</script></body></html>
